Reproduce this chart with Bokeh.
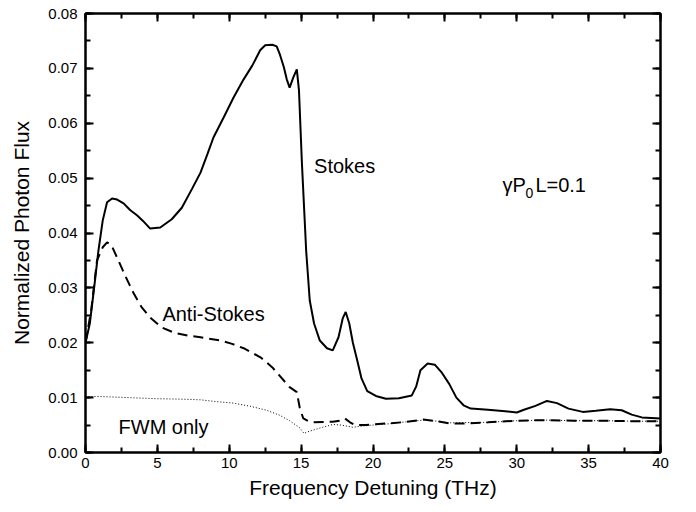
from bokeh.plotting import figure
from bokeh.models import (Range1d, LinearAxis, SingleIntervalTicker, PrintfTickFormatter, Label,
                          CustomJSTickFormatter)
from bokeh.embed import file_html
from bokeh.resources import INLINE

# --- data ---
stokes_x = [0, 0.3, 0.6, 0.9, 1.2, 1.5, 1.85, 2.2, 2.65, 3.1, 3.6, 4.0, 4.5, 5.2, 6.0, 6.7, 7.4,
            8.0, 8.5, 8.9, 9.6, 10.3, 11.0, 11.6, 12.15, 12.5, 13.0, 13.3, 13.5, 13.8, 14.0, 14.2,
            14.45, 14.7, 14.85, 15.05, 15.35, 15.6, 15.9, 16.3, 16.8, 17.2, 17.6, 17.9, 18.1, 18.35,
            18.6, 18.9, 19.2, 19.6, 20.2, 20.9, 21.8, 22.7, 23.0, 23.3, 23.8, 24.3, 24.8, 25.3, 25.8,
            26.3, 26.8, 28.0, 29.2, 30.0, 30.5, 31.3, 32.1, 32.8, 33.6, 34.6, 35.5, 36.5, 37.3, 38.0,
            38.7, 40.0]
stokes_y = [0.0200, 0.0235, 0.0300, 0.0368, 0.0423, 0.0456, 0.0463, 0.0461, 0.0454, 0.0442, 0.0432,
            0.0422, 0.0408, 0.0410, 0.0425, 0.0446, 0.0480, 0.0510, 0.0545, 0.0574, 0.0610, 0.0647,
            0.0680, 0.0705, 0.0733, 0.0742, 0.0743, 0.0740, 0.0727, 0.0702, 0.0680, 0.0665, 0.0683,
            0.0698, 0.0660, 0.0530, 0.0368, 0.0277, 0.0235, 0.0204, 0.0190, 0.0186, 0.0210, 0.0245,
            0.0256, 0.0235, 0.0200, 0.0168, 0.0135, 0.0112, 0.0103, 0.0098, 0.0099, 0.0104, 0.0120,
            0.0150, 0.0162, 0.0160, 0.0145, 0.0125, 0.0100, 0.0086, 0.0080, 0.0078, 0.0075, 0.0073,
            0.0078, 0.0085, 0.0094, 0.0090, 0.0080, 0.0074, 0.0076, 0.0079, 0.0077, 0.0069, 0.0064,
            0.0062]

anti_x = [0, 0.4, 0.8, 1.2, 1.5, 1.8, 2.2, 2.8, 3.35, 3.9, 4.5, 5.3, 6.2, 7.1, 8.0, 9.4, 10.2, 11.0,
          12.2, 13.0, 13.5, 14.2, 14.7, 14.9, 15.15, 15.5, 15.85, 17.2, 17.7, 18.05, 18.4, 18.75,
          19.5, 21.0, 22.0, 23.5, 24.5, 25.3, 26.5, 28.0, 30.0, 32.0, 34.0, 36.0, 38.0, 40.0]
anti_y = [0.0200, 0.0260, 0.0350, 0.0374, 0.0383, 0.0378, 0.0355, 0.0320, 0.0290, 0.0265, 0.0246,
          0.0228, 0.0218, 0.0213, 0.0210, 0.0204, 0.0198, 0.0190, 0.0173, 0.0155, 0.0140, 0.0119,
          0.0110, 0.0082, 0.0062, 0.0057, 0.0055, 0.0056, 0.0058, 0.0062, 0.0055, 0.0050, 0.0050,
          0.0053, 0.0055, 0.0060, 0.0057, 0.0053, 0.0053, 0.0055, 0.0058, 0.0059, 0.0058, 0.0058,
          0.0057, 0.0057]

fwm_x = [0, 1.0, 3.0, 5.0, 7.0, 8.0, 9.0, 10.3, 11.5, 12.6, 13.5, 14.2, 14.9, 15.2, 15.6, 16.5,
         17.2, 17.8, 18.6, 19.5, 21.0, 22.0, 23.5, 24.5, 25.3, 28.0, 30.0, 32.0, 34.0, 36.0, 38.0, 40.0]
fwm_y = [0.0102, 0.0102, 0.0100, 0.0098, 0.0097, 0.0096, 0.0093, 0.0090, 0.0084, 0.0077, 0.0068,
         0.0058, 0.0045, 0.0035, 0.0039, 0.0046, 0.0051, 0.0050, 0.0046, 0.0049, 0.0052, 0.0055,
         0.0059, 0.0057, 0.0054, 0.0055, 0.0058, 0.0059, 0.0058, 0.0058, 0.0057, 0.0057]

x_label = "Frequency Detuning (THz)"
y_label = "Normalized Photon Flux"

FONT = "Liberation Sans"

p = figure(width=696, height=512, output_backend="svg", toolbar_location=None,
           x_range=Range1d(0, 40), y_range=Range1d(0, 0.08),
           min_border_left=85, min_border_right=36, min_border_top=13, min_border_bottom=60,
           x_axis_label=x_label, y_axis_label=y_label)
p.background_fill_color = "white"
p.border_fill_color = "white"
p.grid.visible = False
p.outline_line_color = "black"
p.outline_line_width = 2

xt = SingleIntervalTicker(interval=5, num_minor_ticks=2)
yt = SingleIntervalTicker(interval=0.01, num_minor_ticks=2)

for ax in p.xaxis:
    ax.ticker = xt
for ax in p.yaxis:
    ax.ticker = yt
    ax.formatter = PrintfTickFormatter(format="%.2f")

blank = CustomJSTickFormatter(code="return ''")
p.add_layout(LinearAxis(ticker=xt, formatter=blank), "above")
p.add_layout(LinearAxis(ticker=yt, formatter=blank), "right")

for ax in p.axis:
    ax.axis_line_width = 2
    ax.axis_line_color = "black"
    ax.major_tick_line_width = 2
    ax.minor_tick_line_width = 2
    ax.major_tick_in = 8
    ax.major_tick_out = 0
    ax.minor_tick_in = 5
    ax.minor_tick_out = 0
    ax.major_label_text_font = FONT
    ax.major_label_text_font_size = "15px"
    ax.major_label_text_color = "black"
    ax.axis_label_text_font = FONT
    ax.axis_label_text_font_size = "21px"
    ax.axis_label_text_font_style = "normal"
    ax.axis_label_text_color = "black"

p.xaxis[0].major_label_standoff = 7
p.xaxis[0].axis_label_standoff = 11
p.yaxis[0].major_label_standoff = 8
p.yaxis[0].axis_label_standoff = 12

p.line(stokes_x, stokes_y, line_color="black", line_width=2)
p.line(anti_x, anti_y, line_color="black", line_width=2, line_dash="10 6")
p.line(fwm_x, fwm_y, line_color="black", line_width=1, line_dash="1 2")

def lab(x, y, t, size="20px", xo=0):
    p.add_layout(Label(x=x, y=y, text=t, x_offset=xo, text_font=FONT, text_font_size=size,
                       text_color="black", text_baseline="alphabetic", text_align="left"))

lab(15.9, 0.0523, "Stokes")
lab(5.35, 0.0253, "Anti-Stokes")
lab(2.3, 0.00456, "FWM only")
lab(29.0, 0.0487, "γP")
lab(29.0, 0.0472, "0", size="14px", xo=23)
lab(29.0, 0.0487, "L=0.1", xo=33)

open("out.html", "w").write(file_html(p, INLINE))
